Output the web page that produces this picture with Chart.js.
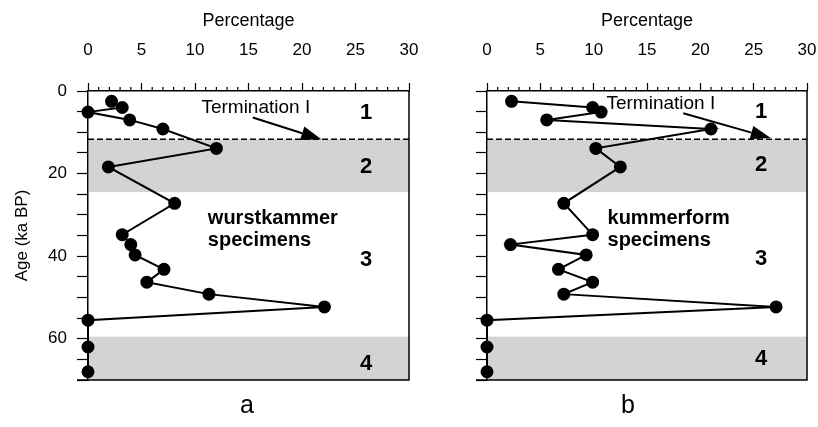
<!DOCTYPE html>
<html>
<head>
<meta charset="utf-8">
<script src="https://cdn.jsdelivr.net/npm/chart.js@4.4.0/dist/chart.umd.min.js"></script>
<style>
body { margin: 0; background: #fff; width: 818px; height: 427px; position: relative; overflow: hidden; font-family: "Liberation Sans", Arial, sans-serif; }
canvas { position: absolute; top: 0; }
#chartA { left: 0; }
#chartB { left: 440px; }
.panel { position: absolute; top: 390px; width: 40px; text-align: center; font-size: 25px; color: #000; }
</style>
</head>
<body>
<canvas id="chartA" width="440" height="427"></canvas>
<canvas id="chartB" width="378" height="427"></canvas>
<div class="panel" style="left:227px">a</div>
<div class="panel" style="left:608px">b</div>
<script>
// sample ages (ka BP), shared by both panels
const ages = [2.5, 4.0, 5.1, 7.0, 9.2, 13.9, 18.4, 27.2, 34.8, 37.2, 39.7, 43.2, 46.3, 49.2, 52.3, 55.5, 62.0, 68.0];
// percentages
const wurstkammer = [2.2, 3.2, 0, 3.9, 7.0, 12.0, 1.9, 8.1, 3.2, 4.0, 4.4, 7.1, 5.5, 11.3, 22.1, 0, 0, 0];
const kummerform = [2.3, 9.9, 10.7, 5.6, 21.0, 10.2, 12.5, 7.2, 9.9, 2.2, 9.3, 6.7, 9.9, 7.2, 27.1, 0, 0, 0];

const xTickLabels = [0, 5, 10, 15, 20, 25, 30];
const yTickLabels = [0, 20, 40, 60];
const stageBands = [[11.7, 24.5], [59.5, 70]];
const terminationAge = 11.7;
const stageNames = ['1', '2', '3', '4'];

const FONT = '"Liberation Sans", Arial, sans-serif';
Chart.defaults.font.family = FONT;
Chart.defaults.color = '#000';

function drawArrow(ctx, x1, y1, x2, y2) {
    const ang = Math.atan2(y2 - y1, x2 - x1);
    const len = 20, half = 7;
    const bx = x2 - len * Math.cos(ang), by = y2 - len * Math.sin(ang);
    ctx.lineWidth = 2;
    ctx.beginPath();
    ctx.moveTo(x1, y1);
    ctx.lineTo(bx, by);
    ctx.stroke();
    ctx.beginPath();
    ctx.moveTo(x2, y2);
    ctx.lineTo(bx - half * Math.sin(ang), by + half * Math.cos(ang));
    ctx.lineTo(bx + half * Math.sin(ang), by - half * Math.cos(ang));
    ctx.closePath();
    ctx.fill();
}

function decor(notes) {
    return {
        id: 'decor',
        beforeDatasetsDraw(chart) {
            const { ctx, chartArea: a, scales: { x, y } } = chart;
            ctx.save();
            ctx.fillStyle = '#d3d3d3';
            stageBands.forEach(([t, b]) => {
                const yt = y.getPixelForValue(t), yb = y.getPixelForValue(b);
                ctx.fillRect(a.left + 1, yt, a.right - a.left - 1, yb - yt);
            });
            ctx.strokeStyle = '#000';
            ctx.lineWidth = 1.5;
            ctx.setLineDash([6, 3]);
            const yd = y.getPixelForValue(terminationAge);
            ctx.beginPath();
            ctx.moveTo(a.left, yd);
            ctx.lineTo(a.right, yd);
            ctx.stroke();
            ctx.setLineDash([]);
            // minor ticks on the top axis
            ctx.lineWidth = 1.2;
            ctx.beginPath();
            for (let v = 0; v <= 30; v++) {
                if (v % 5 === 0) continue;
                const px = x.getPixelForValue(v);
                ctx.moveTo(px, a.top);
                ctx.lineTo(px, a.top - 4);
            }
            ctx.stroke();
            // frame right and bottom
            ctx.lineWidth = 1.5;
            ctx.beginPath();
            ctx.moveTo(a.left - 11, a.bottom);
            ctx.lineTo(a.right, a.bottom);
            ctx.lineTo(a.right, a.top);
            ctx.stroke();
            ctx.restore();
        },
        afterDatasetsDraw(chart) {
            const { ctx, scales: { x, y } } = chart;
            ctx.save();
            ctx.fillStyle = '#000';
            ctx.strokeStyle = '#000';
            ctx.textBaseline = 'middle';
            ctx.textAlign = 'left';
            ctx.font = '19px ' + FONT;
            ctx.fillText('Termination I', x.getPixelForValue(notes.term[0]), y.getPixelForValue(notes.term[1]));
            const ar = notes.arrow;
            drawArrow(ctx, x.getPixelForValue(ar[0]), y.getPixelForValue(ar[1]), x.getPixelForValue(ar[2]), y.getPixelForValue(ar[3]));
            ctx.font = 'bold 20px ' + FONT;
            ctx.fillText(notes.name, x.getPixelForValue(notes.nameAt[0]), y.getPixelForValue(notes.nameAt[1]));
            ctx.fillText('specimens', x.getPixelForValue(notes.nameAt[0]), y.getPixelForValue(notes.nameAt[2]));
            ctx.textAlign = 'center';
            ctx.font = 'bold 22px ' + FONT;
            stageNames.forEach((s, i) => {
                ctx.fillText(s, x.getPixelForValue(notes.stageX), y.getPixelForValue(notes.stageY[i]));
            });
            ctx.restore();
        }
    };
}

function makePanel(id, values, yWidth, padRight, showY, notes) {
    const font = { size: 17, family: FONT };
    const titleFont = { size: 18, family: FONT };
    return new Chart(document.getElementById(id), {
        type: 'scatter',
        data: {
            datasets: [{
                data: ages.map((a, i) => ({ x: values[i], y: a })),
                showLine: true,
                borderColor: '#000',
                borderWidth: 2,
                pointRadius: 5.5,
                pointBackgroundColor: '#000',
                pointBorderColor: '#000',
                clip: false
            }]
        },
        options: {
            responsive: false,
            animation: false,
            layout: { padding: { left: 0, top: 0, right: padRight, bottom: 47 } },
            plugins: { legend: { display: false }, tooltip: { enabled: false } },
            scales: {
                x: {
                    type: 'linear',
                    position: 'top',
                    min: 0,
                    max: 30,
                    ticks: {
                        stepSize: 1,
                        autoSkip: false,
                        maxRotation: 0,
                        padding: 22,
                        font: font,
                        color: '#000',
                        callback: v => xTickLabels.includes(v) ? v : ''
                    },
                    grid: {
                        drawOnChartArea: false,
                        tickLength: 8,
                        tickWidth: 1.2,
                        tickColor: c => (c.tick && c.tick.value % 5 === 0) ? '#000' : 'rgba(0,0,0,0)'
                    },
                    border: { color: '#000', width: 1.5 },
                    title: { display: true, text: 'Percentage', font: titleFont, color: '#000', padding: { top: 10, bottom: 0 } },
                    afterFit: s => { s.height = 91; s.paddingLeft = 0; s.paddingRight = 0; }
                },
                y: {
                    type: 'linear',
                    position: 'left',
                    reverse: true,
                    min: 0,
                    max: 70,
                    ticks: {
                        stepSize: 5,
                        autoSkip: false,
                        padding: 10,
                        font: font,
                        color: '#000',
                        callback: v => (showY && yTickLabels.includes(v)) ? v : ''
                    },
                    grid: { drawOnChartArea: false, tickLength: 11, tickWidth: 1.2, tickColor: '#000' },
                    border: { color: '#000', width: 1.5 },
                    title: { display: showY, text: 'Age (ka BP)', font: font, color: '#000', padding: { top: 12, bottom: 0 } },
                    afterFit: s => { s.width = yWidth; }
                }
            }
        },
        plugins: [decor(notes)]
    });
}

makePanel('chartA', wurstkammer, 88, 31, true, {
    term: [10.6, 4.1],
    arrow: [15.4, 6.4, 21.8, 11.7],
    name: 'wurstkammer',
    nameAt: [11.2, 30.8, 36.1],
    stageX: 26.0,
    stageY: [5.4, 18.4, 40.8, 66.0]
});

makePanel('chartB', kummerform, 47, 11, false, {
    term: [11.2, 3.1],
    arrow: [18.4, 5.4, 26.6, 11.4],
    name: 'kummerform',
    nameAt: [11.3, 30.8, 36.1],
    stageX: 25.7,
    stageY: [5.0, 17.9, 40.6, 65.0]
});
</script>
</body>
</html>
